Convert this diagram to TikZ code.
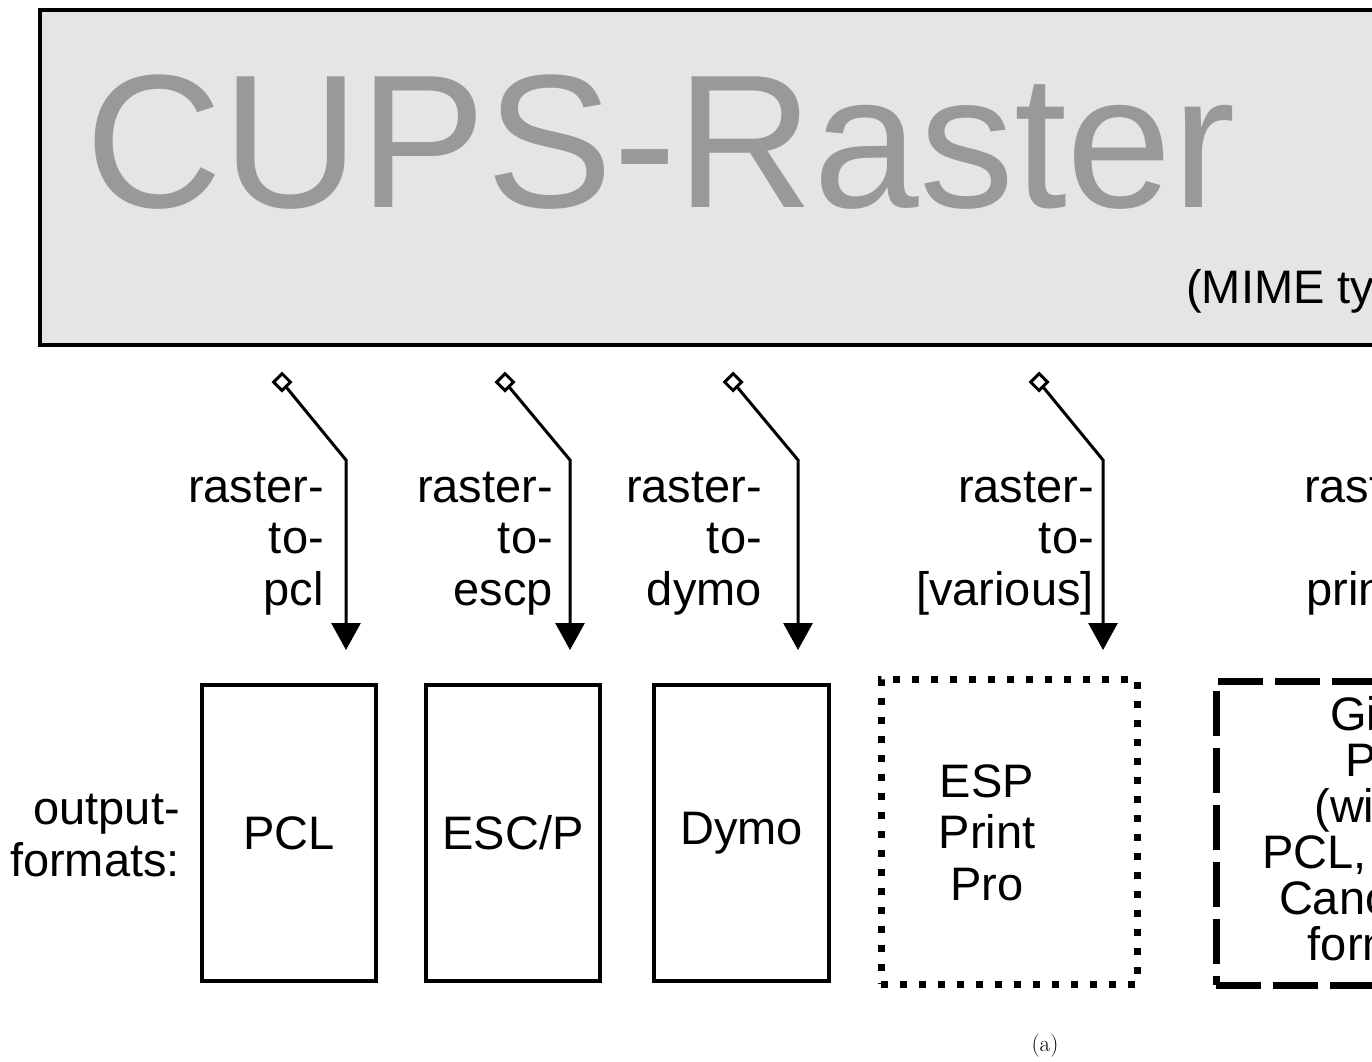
\documentclass[tikz,border=0pt]{standalone}
\usepackage{fontspec}
\newfontfamily\arial{Liberation Sans}
\usetikzlibrary{shapes.geometric,arrows.meta}
\definecolor{cupsfill}{RGB}{229,229,229}
\definecolor{cupstext}{RGB}{153,153,153}
\tikzset{
  txt/.style={font=\arial\fontsize{47}{51.5}\selectfont, inner sep=0pt},
  lbl/.style={txt, align=right, anchor=base east},
  fmtbox/.style={txt, draw, line width=4pt, minimum width=174pt, minimum height=296pt},
  tap/.style={shape=diamond, draw, fill=white, line width=3pt, minimum width=18pt, minimum height=18pt, inner sep=0pt},
  flow/.style={line width=3pt, -{Triangle[length=27pt,width=29pt]}},
}
\begin{document}
\begin{tikzpicture}[x=1pt,y=-1pt]
\useasboundingbox (0,0) rectangle (1372,1061);
\clip (0,0) rectangle (1372,1061);
% top box
\node[draw, line width=4pt, fill=cupsfill, minimum width=1960pt, minimum height=335pt, inner sep=0pt] (cups) at (1020,177.5) {};
\node[font=\arial\fontsize{190}{200}\selectfont, text=cupstext, inner sep=0pt, anchor=base west] (title) at (85,207) {CUPS-Raster};
\node[txt, anchor=base west] (mime) at (1186,303) {(MIME type: application/vnd.cups-raster)};
% taps and connectors
\node[tap] (d1) at (282,382) {};
\node[tap] (d2) at (505,382) {};
\node[tap] (d3) at (733,382) {};
\node[tap] (d4) at (1039,382) {};
\coordinate (b1) at (346,460); \coordinate (t1) at (346,650);
\coordinate (b2) at (570,460); \coordinate (t2) at (570,650);
\coordinate (b3) at (798,460); \coordinate (t3) at (798,650);
\coordinate (b4) at (1103,460); \coordinate (t4) at (1103,650);
\draw[flow] (d1) -- (b1) -- (t1);
\draw[flow] (d2) -- (b2) -- (t2);
\draw[flow] (d3) -- (b3) -- (t3);
\draw[flow] (d4) -- (b4) -- (t4);
% filter labels (base = baseline of the last line)
\node[lbl] (l1) at (324,605) {raster-\\to-\\pcl};
\node[lbl] (l2) at (553,605) {raster-\\to-\\escp};
\node[lbl] (l3) at (762,605) {raster-\\to-\\dymo};
\node[lbl] (l4) at (1094,605) {raster-\\to-\\{}[various]};
\node[lbl] (l5) at (1440,605) {raster-\\to-\\printer};
% output formats
\node[lbl] (outfmt) at (180,876) {output-\\formats:};
\node[fmtbox] (pcl) at (289,833) {PCL};
\node[fmtbox] (escp) at (513,833) {ESC/P};
\node[fmtbox, minimum width=175pt] (dymo) at (741.5,833) {Dymo};
\node[draw, line width=7pt, dash pattern=on 7pt off 12pt, minimum width=256pt, minimum height=305pt, inner sep=0pt] (esp) at (1009,831.5) {};
\node[txt, align=center, anchor=base] (esptext) at (987,900) {ESP\\Print\\Pro};
\node[draw, line width=7pt, dash pattern=on 45pt off 12pt, minimum width=356pt, minimum height=304pt, inner sep=0pt, align=center, font=\arial\fontsize{47}{46}\selectfont] (gimp) at (1394,833) {Gimp-\\Print\\(with all\\PCL, Epson,\\Canon and\\formats)};
% caption
\node[font=\fontsize{23}{26}\selectfont, inner sep=0pt] (cap) at (1045,1046) {(a)};
\end{tikzpicture}
\end{document}
